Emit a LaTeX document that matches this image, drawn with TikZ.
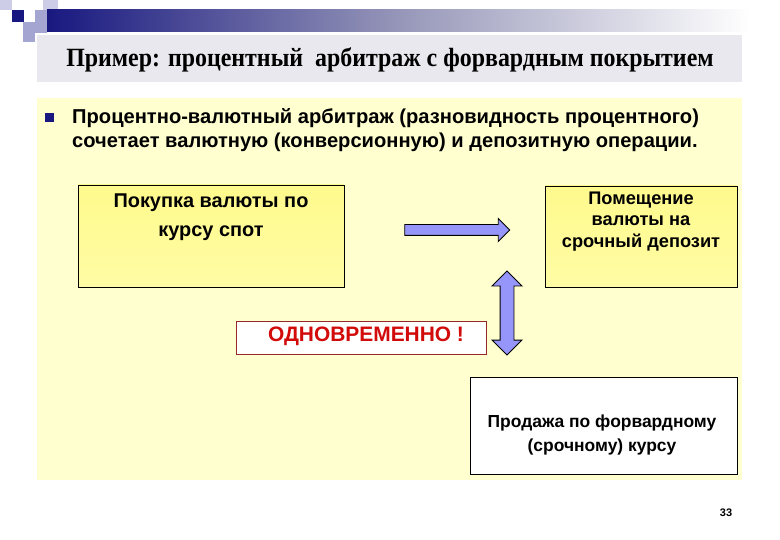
\documentclass[tikz,border=0pt]{standalone}
\usepackage{fontspec}
\setmainfont{Liberation Sans}
\newfontfamily\titlefont{Liberation Serif}
\usetikzlibrary{shapes.arrows}
\definecolor{navyb}{RGB}{24,24,128}
\definecolor{lav1}{RGB}{205,205,232}
\definecolor{lav2}{RGB}{165,165,210}
\definecolor{bandgray}{RGB}{232,232,238}
\definecolor{paleyel}{RGB}{255,255,208}
\definecolor{boxyel}{RGB}{255,250,140}
\definecolor{arrowblue}{RGB}{150,150,250}
\definecolor{redborder}{RGB}{150,40,40}
\definecolor{redtext}{RGB}{210,10,10}
\tikzset{
  yelbox/.style={draw=black, line width=0.9bp, top color=boxyel, bottom color={rgb,255:red,255;green,252;blue,165}},
  whitebox/.style={draw=black, line width=0.9bp, fill=white},
  boxtext/.style={align=center, inner sep=0pt},
  blockarrow/.style={draw=black, line width=0.9bp, fill=arrowblue, inner xsep=0pt}
}
\begin{document}
\begin{tikzpicture}[x=1bp,y=-1bp]
\useasboundingbox (0,0) rectangle (780,540);
\fill[white] (0,0) rectangle (780,540);
% corner decoration
\fill[lav1] (0,0) rectangle (12,10);
\fill[lav1] (43,0) rectangle (58,10);
\fill[navyb] (12,10) rectangle (24,22);
\fill[lav2] (35,10) rectangle (47,33);
\fill[lav2] (23,22) rectangle (35,42);
\shade[left color=navyb, right color=white, middle color={rgb,255:red,150;green,150;blue,185}] (47,10) rectangle (750,32);
% title band
\fill[bandgray] (37,35) rectangle (742,82);
\node[font=\titlefont\bfseries\fontsize{24}{26}\selectfont, inner sep=0pt] (title) at (390,60) {\scalebox{1}[1.1]{Пример: процентный\ \ арбитраж с форвардным покрытием}};
% yellow content area
\fill[paleyel] (37,98) rectangle (742,480);
% bullet
\fill[navyb] (45,113) rectangle (54,122);
\node[anchor=west, font=\bfseries\fontsize{20.2}{24}\selectfont, align=left, inner sep=0pt] (intro) at (72,130)
  {Процентно-валютный арбитраж (разновидность процентного)\\сочетает валютную (конверсионную) и депозитную операции.};
% boxes
\draw[yelbox] (78,185) rectangle (344,287);
\node[boxtext, font=\bfseries\fontsize{20}{29}\selectfont] (b1) at (211,217.5) {Покупка валюты по\\курсу спот};
\draw[yelbox] (545,186) rectangle (737,287);
\node[boxtext, font=\bfseries\fontsize{18.3}{21.5}\selectfont] (b2) at (641,221.5) {Помещение\\валюты на\\срочный депозит};
\draw[draw=redborder, line width=0.9bp, fill=white] (236,321) rectangle (486,354);
\node[font=\bfseries\fontsize{21}{22}\selectfont, text=redtext, inner sep=0pt] (sim) at (366,336) {ОДНОВРЕМЕННО !};
\draw[whitebox] (470,377) rectangle (737,474);
\node[boxtext, font=\bfseries\fontsize{17.5}{24}\selectfont] (b3) at (602,435) {Продажа по форвардному\\(срочному) курсу};
% block arrows
\node[blockarrow, single arrow, inner ysep=5bp, minimum height=105bp, minimum width=22bp, single arrow head extend=6bp] (ar1) at (454.5,230) {};
\node[blockarrow, double arrow, rotate=90, inner ysep=6.5bp, minimum height=84bp, minimum width=29bp, double arrow head extend=8bp] (ar2) at (507,313) {};
% page number
\node[font=\bfseries\fontsize{11}{13}\selectfont, inner sep=0pt] (pg) at (726,513) {33};
\end{tikzpicture}
\end{document}
